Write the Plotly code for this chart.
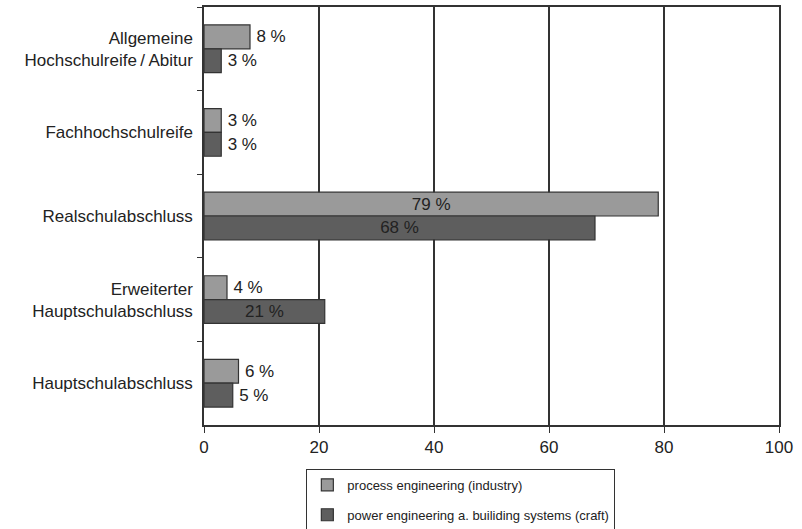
import plotly.graph_objects as go

categories = ["Allgemeine<br>Hochschulreife\u2009/\u2009Abitur", "Fachhochschulreife",
              "Realschulabschluss", "Erweiterter<br>Hauptschulabschluss", "Hauptschulabschluss"]
series_names = ["process engineering (industry)", "power engineering a. builiding systems (craft)"]
process_vals = [8, 3, 79, 4, 6]
power_vals = [3, 3, 68, 21, 5]
x_ticks = [0, 20, 40, 60, 80, 100]

colors = ["#9a9a9a", "#5e5e5e"]

def labels(vals):
    return [f"{v} %" if v >= 20 else f"\u2009{v} %" for v in vals]

def positions(vals):
    return ["inside" if v >= 20 else "outside" for v in vals]

fig = go.Figure()
for i, (name, vals, col) in enumerate(zip(series_names, [process_vals, power_vals], colors)):
    fig.add_trace(go.Bar(
        y=categories, x=vals, orientation="h", name=name, legendgroup=f"g{i}",
        marker=dict(color=col, line=dict(color="#333333", width=1.2)),
        text=labels(vals), textposition=positions(vals),
        insidetextanchor="middle", constraintext="none",
        textfont=dict(size=17, color="#222222"), cliponaxis=False,
    ))

fig.update_layout(
    width=802, height=529,
    margin=dict(l=204, r=23, t=7, b=104, autoexpand=False),
    barmode="group", bargap=0.43, bargroupgap=0,
    plot_bgcolor="white", paper_bgcolor="white",
    font=dict(family="Liberation Sans, Arial, sans-serif", color="#222222"),
    showlegend=True,
    legend=dict(x=0.178, y=-0.105, xanchor="left", yanchor="top",
                bordercolor="#333333", borderwidth=1, font=dict(size=13),
                traceorder="grouped", itemwidth=30, tracegroupgap=10),
    xaxis=dict(range=[0, 100], tickvals=x_ticks, showgrid=True, gridcolor="#333333",
               gridwidth=1.5, showline=True, linecolor="#333333", linewidth=1.5,
               mirror=True, ticks="outside", ticklen=6, tickcolor="#333333",
               tickfont=dict(size=17), zeroline=False),
    yaxis=dict(autorange="reversed", showline=True, linecolor="#333333", linewidth=1.5,
               ticks="outside", tickson="boundaries", ticklen=5, tickcolor="#333333",
               tickfont=dict(size=17), showgrid=False, mirror=True, ticklabelstandoff=6),
)

fig.write_html("out.html")
